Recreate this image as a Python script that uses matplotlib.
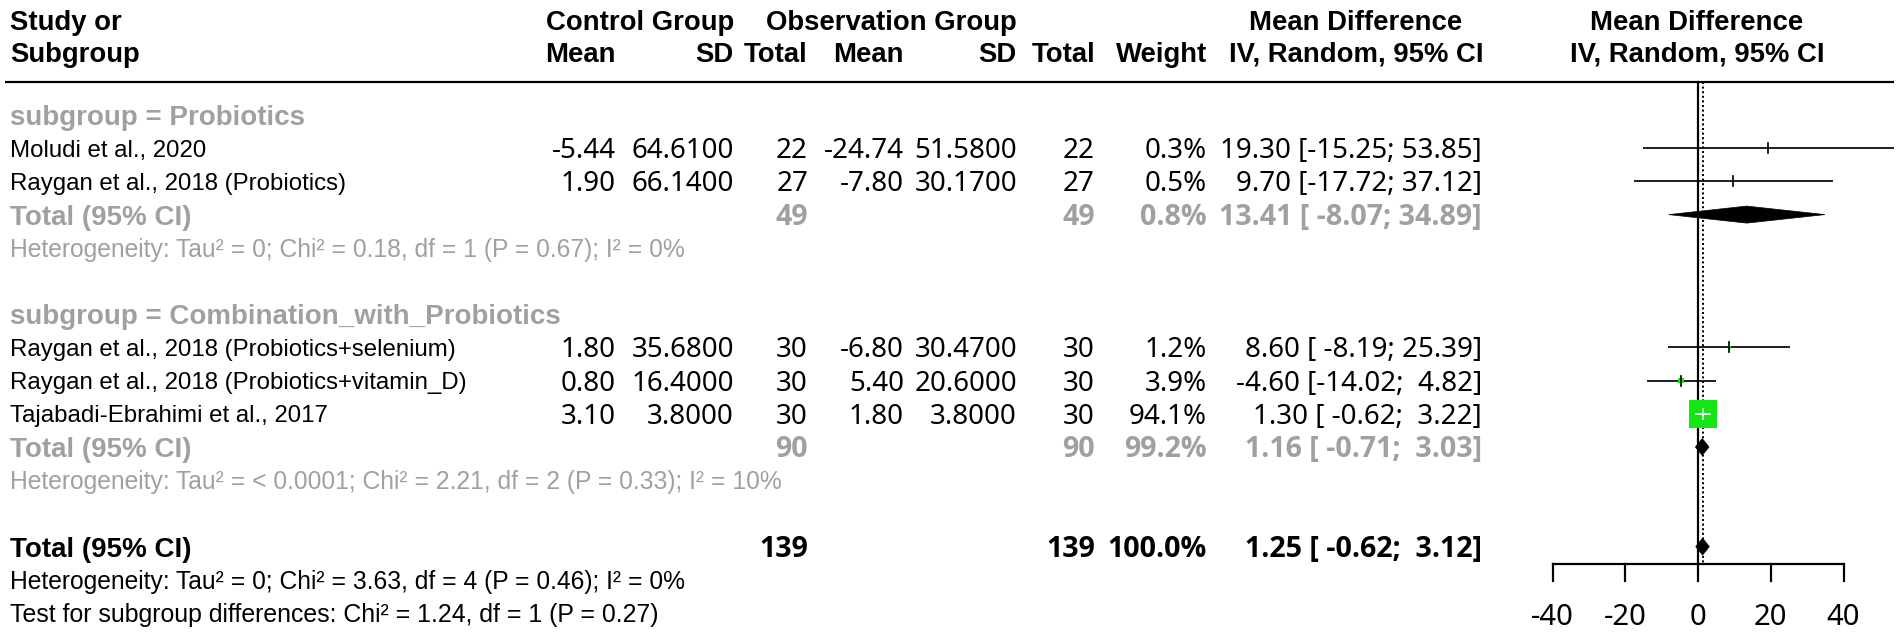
import matplotlib
matplotlib.use("Agg")
import matplotlib.pyplot as plt
from matplotlib.patches import Polygon, Rectangle

# ---------------- data ----------------
subgroup_names = ["Probiotics", "Combination_with_Probiotics"]
studies = ["Moludi et al., 2020",
           "Raygan et al., 2018 (Probiotics)",
           "Raygan et al., 2018 (Probiotics+selenium)",
           "Raygan et al., 2018 (Probiotics+vitamin_D)",
           "Tajabadi-Ebrahimi et al., 2017"]
study_group = [0, 0, 1, 1, 1]
ctrl_mean = [-5.44, 1.90, 1.80, 0.80, 3.10]
ctrl_sd = [64.61, 66.14, 35.68, 16.40, 3.80]
ctrl_n = [22, 27, 30, 30, 30]
obs_mean = [-24.74, -7.80, -6.80, 5.40, 1.80]
obs_sd = [51.58, 30.17, 30.47, 20.60, 3.80]
obs_n = [22, 27, 30, 30, 30]
weights = [0.3, 0.5, 1.2, 3.9, 94.1]
md = [19.30, 9.70, 8.60, -4.60, 1.30]
ci_low = [-15.25, -17.72, -8.19, -14.02, -0.62]
ci_high = [53.85, 37.12, 25.39, 4.82, 3.22]

sub_md = [13.41, 1.16]
sub_low = [-8.07, -0.71]
sub_high = [34.89, 3.03]
sub_weight = [0.8, 99.2]
sub_n_ctrl = [49, 90]
sub_n_obs = [49, 90]
sub_het = ["Heterogeneity: Tau² = 0; Chi² = 0.18, df = 1 (P = 0.67); I² = 0%",
           "Heterogeneity: Tau² = < 0.0001; Chi² = 2.21, df = 2 (P = 0.33); I² = 10%"]

total_md = 1.25
total_low = -0.62
total_high = 3.12
total_n_ctrl = 139
total_n_obs = 139
total_weight = 100.0
total_het = "Heterogeneity: Tau² = 0; Chi² = 3.63, df = 4 (P = 0.46); I² = 0%"
test_sub = "Test for subgroup differences: Chi² = 1.24, df = 1 (P = 0.27)"
x_ticks = [-40, -20, 0, 20, 40]

# ---------------- layout ----------------
W, H, DPI = 1901, 635, 100
LAB = ["Liberation Sans", "DejaVu Sans"]
NUM = ["Noto Sans", "DejaVu Sans"]
NUMB = ["Open Sans", "Noto Sans", "DejaVu Sans"]
GRAY = "#a0a0a0"
GREEN = "#14e614"

fig = plt.figure(figsize=(W / DPI, H / DPI), dpi=DPI)
renderer = fig.canvas.get_renderer()


def fit(txt, family, weight, target):
    t = fig.text(0, 0, txt, family=family, weight=weight, fontsize=20)
    w = t.get_window_extent(renderer).width
    t.remove()
    return 20.0 * target / w


FS_HEAD = fit("Mean Difference", LAB, "bold", 213)
FS_LAB = fit("Raygan et al., 2018 (Probiotics+selenium)", LAB, "normal", 445)
FS_SUB = fit("subgroup = Combination_with_Probiotics", LAB, "bold", 550)
FS_HET = fit(sub_het[0], LAB, "normal", 676)
FS_NUM = fit("19.30 [-15.25; 53.85]", NUM, "normal", 262)
FS_NUMB = fit("13.41 [ -8.07; 34.89]", NUMB, "bold", 264)
FS_TICK = fit("-40", NUM, "normal", 43)

ax = fig.add_axes([0, 0, 1, 1])
ax.set_xlim(0, W)
ax.set_ylim(H, 0)
ax.axis("off")

# forest axes: x=0 at 1698 px, 3.6375 px per unit
FX0, PPU = 1698.0, (1843 - 1552) / 80.0
fx_left = 1440
axf = fig.add_axes([fx_left / W, 0, (W - fx_left) / W, 1])
axf.set_xlim((fx_left - FX0) / PPU, (W - FX0) / PPU)
axf.set_ylim(H, 0)
axf.axis("off")

Y0, DY = 115.0, 33.2
LINE_Y = 82
AXIS_Y = 564
TICK_LEN = 17
TICK_LAB_Y = 614


def ypx(r):
    return Y0 + DY * r


def px2pt(p):
    return p * 72.0 / DPI


def text(x, y, s, fs, family, weight="normal", color="black", ha="left"):
    # y is the visual centre of the row; shift baseline by ~0.36 em
    base = y + 0.36 * fs * DPI / 72.0
    ax.text(x, base, s, fontsize=fs, family=family, weight=weight, color=color,
            ha=ha, va="baseline")


# column right edges
C_MEAN, C_SD, C_TOT = 616, 734, 808
O_MEAN, O_SD, O_TOT = 904, 1017, 1095
W_R, MD_R = 1207, 1482
MD_HEAD_C, FOREST_HEAD_C = 1356, 1697
LEFT = 10

# headers
H1, H2 = 20, 52
text(LEFT, H1, "Study or", FS_HEAD, LAB, "bold")
text(LEFT, H2, "Subgroup", FS_HEAD, LAB, "bold")
text(C_SD, H1, "Control Group", FS_HEAD, LAB, "bold", ha="right")
text(O_SD, H1, "Observation Group", FS_HEAD, LAB, "bold", ha="right")
text(C_MEAN, H2, "Mean", FS_HEAD, LAB, "bold", ha="right")
text(C_SD, H2, "SD", FS_HEAD, LAB, "bold", ha="right")
text(C_TOT, H2, "Total", FS_HEAD, LAB, "bold", ha="right")
text(O_MEAN, H2, "Mean", FS_HEAD, LAB, "bold", ha="right")
text(O_SD, H2, "SD", FS_HEAD, LAB, "bold", ha="right")
text(O_TOT, H2, "Total", FS_HEAD, LAB, "bold", ha="right")
text(W_R, H2, "Weight", FS_HEAD, LAB, "bold", ha="right")
text(MD_HEAD_C, H1, "Mean Difference", FS_HEAD, LAB, "bold", ha="center")
text(MD_HEAD_C, H2, "IV, Random, 95% CI", FS_HEAD, LAB, "bold", ha="center")
text(FOREST_HEAD_C, H1, "Mean Difference", FS_HEAD, LAB, "bold", ha="center")
text(FOREST_HEAD_C, H2, "IV, Random, 95% CI", FS_HEAD, LAB, "bold", ha="center")
ax.plot([5, 1894], [LINE_Y, LINE_Y], color="black", lw=px2pt(2.2), solid_capstyle="butt")


def ci_str(m, lo, hi):
    return f"{m:.2f} [{lo:6.2f}; {hi:5.2f}]"


# rows
r = 0
row_of_study = []
sub_rows = []
for g, gname in enumerate(subgroup_names):
    text(LEFT, ypx(r), f"subgroup = {gname}", FS_SUB, LAB, "bold", GRAY)
    r += 1
    for i in range(len(studies)):
        if study_group[i] != g:
            continue
        y = ypx(r)
        row_of_study.append((i, y))
        text(LEFT, y, studies[i], FS_LAB, LAB)
        text(C_MEAN, y, f"{ctrl_mean[i]:.2f}", FS_NUM, NUM, ha="right")
        text(C_SD, y, f"{ctrl_sd[i]:.4f}", FS_NUM, NUM, ha="right")
        text(C_TOT, y, f"{ctrl_n[i]}", FS_NUM, NUM, ha="right")
        text(O_MEAN, y, f"{obs_mean[i]:.2f}", FS_NUM, NUM, ha="right")
        text(O_SD, y, f"{obs_sd[i]:.4f}", FS_NUM, NUM, ha="right")
        text(O_TOT, y, f"{obs_n[i]}", FS_NUM, NUM, ha="right")
        text(W_R, y, f"{weights[i]:.1f}%", FS_NUM, NUM, ha="right")
        text(MD_R, y, ci_str(md[i], ci_low[i], ci_high[i]), FS_NUM, NUM, ha="right")
        r += 1
    y = ypx(r)
    sub_rows.append(y)
    text(LEFT, y, "Total (95% CI)", FS_SUB, LAB, "bold", GRAY)
    text(C_TOT, y, f"{sub_n_ctrl[g]}", FS_NUMB, NUMB, "bold", GRAY, ha="right")
    text(O_TOT, y, f"{sub_n_obs[g]}", FS_NUMB, NUMB, "bold", GRAY, ha="right")
    text(W_R, y, f"{sub_weight[g]:.1f}%", FS_NUMB, NUMB, "bold", GRAY, ha="right")
    text(MD_R, y, ci_str(sub_md[g], sub_low[g], sub_high[g]), FS_NUMB, NUMB, "bold", GRAY, ha="right")
    r += 1
    text(LEFT, ypx(r), sub_het[g], FS_HET, LAB, color=GRAY)
    r += 2

y_tot = ypx(r)
text(LEFT, y_tot, "Total (95% CI)", FS_SUB, LAB, "bold")
text(C_TOT, y_tot, f"{total_n_ctrl}", FS_NUMB, NUMB, "bold", ha="right")
text(O_TOT, y_tot, f"{total_n_obs}", FS_NUMB, NUMB, "bold", ha="right")
text(W_R, y_tot, f"{total_weight:.1f}%", FS_NUMB, NUMB, "bold", ha="right")
text(MD_R, y_tot, ci_str(total_md, total_low, total_high), FS_NUMB, NUMB, "bold", ha="right")
text(LEFT, ypx(r + 1), total_het, FS_HET, LAB)
text(LEFT, ypx(r + 2), test_sub, FS_HET * 1.01, LAB)

# ---------------- forest ----------------
LW = px2pt(1.7)
axf.plot([0, 0], [LINE_Y, AXIS_Y], color="black", lw=px2pt(2.2))
axf.plot([total_md, total_md], [LINE_Y, AXIS_Y], color="black", lw=px2pt(2.0),
         linestyle=(0, (1, 1.3)))

SQ_MAX = 28.0
TICK_H = 10.0
for i, y in row_of_study:
    axf.plot([ci_low[i], ci_high[i]], [y, y], color="black", lw=LW, solid_capstyle="butt")
    side = SQ_MAX * (weights[i] / max(weights)) ** 0.5
    axf.add_patch(Rectangle((md[i] - side / 2 / PPU, y - side / 2), side / PPU, side,
                            facecolor=GREEN, edgecolor="none", zorder=3))
    inside = side > TICK_H
    col = "white" if inside else "black"
    if inside:
        lo = max(ci_low[i], md[i] - side / 2 / PPU)
        hi = min(ci_high[i], md[i] + side / 2 / PPU)
        axf.plot([lo, hi], [y, y], color="white", lw=LW, zorder=4)
    axf.plot([md[i], md[i]], [y - TICK_H / 2, y + TICK_H / 2], color=col, lw=LW, zorder=4)

DH = 17.0
diamonds = [(sub_md[g], sub_low[g], sub_high[g], sub_rows[g]) for g in range(len(sub_md))]
diamonds.append((total_md, total_low, total_high, y_tot))
for m, lo, hi, y in diamonds:
    axf.add_patch(Polygon([(lo, y), (m, y - DH / 2), (hi, y), (m, y + DH / 2)],
                          closed=True, facecolor="black", edgecolor="black", lw=0.5, zorder=3))

# x axis
axf.plot([x_ticks[0], x_ticks[-1]], [AXIS_Y, AXIS_Y], color="black", lw=px2pt(2.2),
         solid_capstyle="projecting")
for t in x_ticks:
    axf.plot([t, t], [AXIS_Y, AXIS_Y + TICK_LEN], color="black", lw=px2pt(2.2))
    axf.text(t, TICK_LAB_Y + 0.36 * FS_TICK * DPI / 72.0, f"{t}", fontsize=FS_TICK,
             family=NUM, ha="center", va="baseline")

fig.savefig("out.png", dpi=DPI)
